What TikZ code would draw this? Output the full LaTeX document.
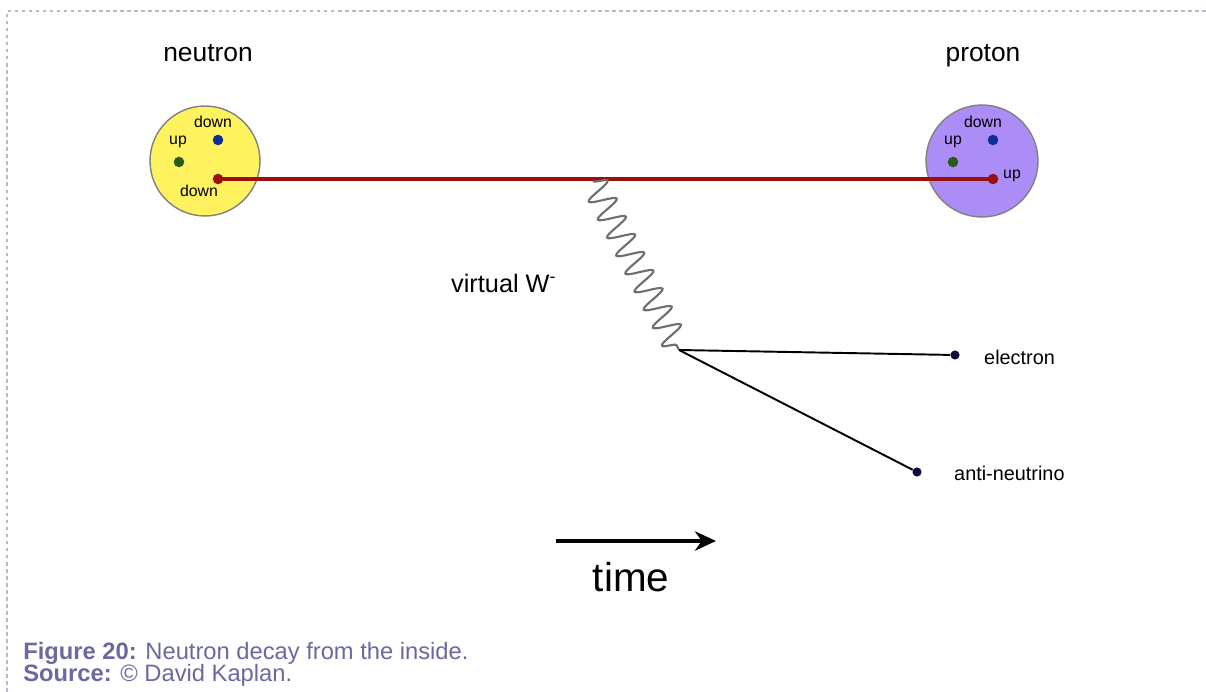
\documentclass[tikz,border=0pt]{standalone}
\usepackage{fontspec}
\setmainfont{Liberation Sans}
\usetikzlibrary{decorations.pathmorphing,arrows.meta}
\definecolor{neutronyellow}{RGB}{255,242,95}
\definecolor{protonviolet}{RGB}{172,140,246}
\definecolor{quarkred}{RGB}{155,15,15}
\definecolor{quarkblue}{RGB}{15,45,150}
\definecolor{quarkgreen}{RGB}{40,90,25}
\definecolor{leptondot}{RGB}{15,10,60}
\definecolor{captionblue}{RGB}{105,105,160}
\definecolor{framegrey}{RGB}{185,185,205}
\definecolor{wavegrey}{RGB}{110,110,110}
\begin{document}
\begin{tikzpicture}[x=0.02cm, y=-0.02cm,
    hadron/.style={circle, draw=gray, line width=0.8pt, fill=#1, minimum size=2.2cm, inner sep=0pt},
    quark/.style={circle, fill=#1, inner sep=0pt, minimum size=6pt},
    lepton/.style={circle, fill=leptondot, inner sep=0pt, minimum size=5.2pt},
    qlabel/.style={font=\fontsize{9}{10}\selectfont, inner sep=0pt},
    title/.style={font=\fontsize{15}{17}\selectfont, inner sep=0pt, anchor=base}]
    \useasboundingbox (0,0) rectangle (1206,692);
    \draw[framegrey, line width=0.6pt, dash pattern=on 2pt off 2pt] (7,692) -- (7,11) -- (1206,11);
    % the two hadrons
    \node[title] (ntitle) at (208,62) {neutron};
    \node[title] (ptitle) at (983,62) {proton};
    \node[hadron=neutronyellow] (neutron) at (205,161) {};
    \node[hadron=protonviolet, minimum size=2.24cm] (proton) at (982,161) {};
    \node[quark=quarkblue] (nd1) at (218,140) {};
    \node[quark=quarkgreen] (nu) at (179,162) {};
    \node[quark=quarkred] (nd2) at (218,179) {};
    \node[quark=quarkblue] (pd) at (993,140) {};
    \node[quark=quarkgreen] (pu1) at (953,162) {};
    \node[quark=quarkred] (pu2) at (993,179) {};
    \node[qlabel] at (213,122) {down};
    \node[qlabel] at (178,142) {up};
    \node[qlabel] at (199,191) {down};
    \node[qlabel] at (983,122) {down};
    \node[qlabel] at (953,142) {up};
    \node[qlabel] at (1012,176) {up};
    \draw[quarkred, line width=2.2pt] (nd2.center) -- (pu2.center);
    % W boson and leptons
    \coordinate (wtop) at (593,181);
    \coordinate (vtx) at (679,350);
    \draw[wavegrey, line width=1.2pt, decorate, decoration={snake, segment length=11.5pt, amplitude=7.5pt}] (wtop) -- (vtx);
    \node[lepton] (el) at (955,355) {};
    \node[lepton] (nubar) at (917,472) {};
    \draw[line width=1.1pt] (vtx) -- (el);
    \draw[line width=1.1pt] (vtx) -- (nubar);
    \node[font=\fontsize{11.3}{13}\selectfont, anchor=west] at (978,357) {electron};
    \node[font=\fontsize{11.3}{13}\selectfont, anchor=west] at (948,473) {anti-neutrino};
    \node[font=\fontsize{14.4}{16}\selectfont, anchor=west] (wlabel) at (445,283) {virtual W\textsuperscript{-}};
    % time arrow
    \coordinate (tstart) at (556,541);
    \coordinate (tend) at (716,541);
    \draw[line width=2.4pt, -{Stealth[length=12pt, width=11pt]}] (tstart) -- (tend);
    \node[font=\fontsize{23}{26}\selectfont] (time) at (631,577) {time};
    % caption
    \node[captionblue, font=\fontsize{13.5}{15}\selectfont, anchor=base west, inner sep=0pt] (fig) at (23,659) {\textbf{Figure 20:} Neutron decay from the inside.};
    \node[captionblue, font=\fontsize{13.5}{15}\selectfont, anchor=base west, inner sep=0pt] (src) at (23,681) {\textbf{Source:} © David Kaplan.};
\end{tikzpicture}
\end{document}
